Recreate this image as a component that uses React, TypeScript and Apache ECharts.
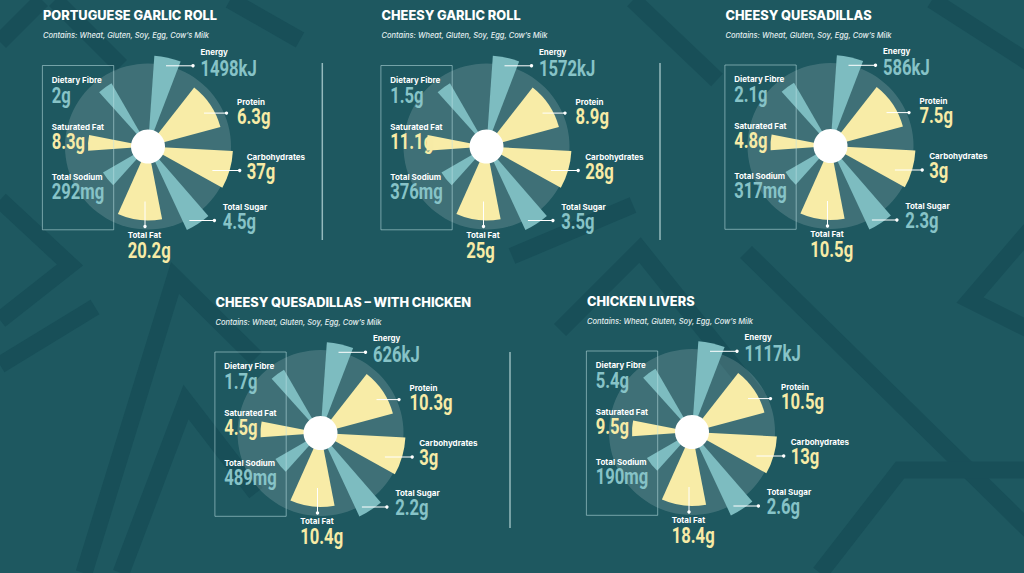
import React, { useEffect, useRef } from "react";
import * as echarts from "echarts";

// ---------- data ----------
const CATEGORIES = ["Energy", "Protein", "Carbohydrates", "Total Sugar", "Total Fat", "Total Sodium", "Saturated Fat", "Dietary Fibre"];
const UNITS = ["kJ", "g", "g", "g", "g", "mg", "g", "g"];
const DISHES = ["PORTUGUESE GARLIC ROLL", "CHEESY GARLIC ROLL", "CHEESY QUESADILLAS", "CHEESY QUESADILLAS – WITH CHICKEN", "CHICKEN LIVERS"];
const ALLERGENS = "Contains: Wheat, Gluten, Soy, Egg, Cow’s Milk";

const PORTUGUESE_GARLIC_ROLL = [1498, 6.3, 37, 4.5, 20.2, 292, 8.3, 2];
const CHEESY_GARLIC_ROLL = [1572, 8.9, 28, 3.5, 25, 376, 11.1, 1.5];
const CHEESY_QUESADILLAS = [586, 7.5, 3, 2.3, 10.5, 317, 4.8, 2.1];
const CHEESY_QUESADILLAS_CHICKEN = [626, 10.3, 3, 2.2, 10.4, 489, 4.5, 1.7];
const CHICKEN_LIVERS = [1117, 10.5, 13, 2.6, 18.4, 190, 9.5, 5.4];

// decorative petal template (identical for every dish): length on a 0-100 radius axis, angular span in degrees
const PETAL_LENGTH = [91, 75, 85, 92, 74, 52, 60, 73];
const PETAL_FROM = [4, 38, 93, 139, 169, 222, 266, 318];
const PETAL_TO = [21, 75, 119, 155, 204, 240, 281, 330];
const DISC_LENGTH = 83;
const HOLE_LENGTH = 17;

// ---------- layout & style ----------
const CENTERS = [
  [148, 146.5],
  [486.5, 146.5],
  [830.5, 146],
  [320.5, 433],
  [692, 432],
];
// per category: label x offset, name baseline offset, value baseline offset (relative to centre)
const LABEL_POS = [
  [52.4, -92, -70.7],
  [89, -42, -22.7],
  [98.7, 13.1, 32.3],
  [74.7, 63.1, 82.3],
  [-20.3, 91.1, 111.3],
  [-96.3, 33.1, 52.3],
  [-96.3, -16.9, 2.3],
  [-96.3, -63.9, -43.7],
];
const POINTERS: (number[] | null)[] = [
  [18, -80.7, 45, -80.7],
  [56, -33.4, 78.5, -33.4],
  [64.4, 24, 91.7, 24],
  [41.4, 74, 66.4, 74],
  [-3, 55, -3, 80],
  null,
  null,
  null,
];
const BOX = [-105.6, -81, 71.3, 164.3];
const SEPARATORS = [
  [322.3, 63, 240],
  [660, 63, 240],
  [510, 352, 528],
];
const STRIPES = [
  [[0, 42], [42, 0]],
  [[55, 0], [121, 66]],
  [[0, 365], [95, 307]],
  [[84, 573], [175, 278], [256, 358]],
  [[121, 573], [186, 402], [256, 493]],
  [[0, 200], [70, 265], [0, 320]],
  [[633, 0], [717, 80]],
  [[512, 256], [633, 205]],
  [[746, 252], [1073, 573]],
  [[932, 0], [1073, 91]],
  [[1030, 230], [970, 300], [1030, 330]],
  [[560, 330], [640, 250], [760, 400]],
  [[820, 573], [900, 470], [1030, 470]],
  [[230, 0], [300, 40]],
];

const TONE = [0, 1, 1, 0, 1, 0, 1, 0];
const PETAL_COLORS = ["#7dbcc0", "#f8eca7"];
const VALUE_COLORS = ["#87c3c7", "#f7eba6"];
const BG = "#1e5860";
const STRIPE = "#184f58";
const DISC_FILL = "rgba(255,255,255,0.15)";
const VALUE_FONT = "Roboto, sans-serif";
const TEXT_FONT = "Inter, Roboto, sans-serif";
const VALUE_SIZE = 22.5;
const VALUE_SQUEEZE = 0.74;

export default function App() {
  const ref = useRef<HTMLDivElement>(null);

  useEffect(() => {
    document.body.style.margin = "0";
    const chart = echarts.init(ref.current!, undefined, { renderer: "svg", width: 1024, height: 573 });
    const dishValues = [PORTUGUESE_GARLIC_ROLL, CHEESY_GARLIC_ROLL, CHEESY_QUESADILLAS, CHEESY_QUESADILLAS_CHICKEN, CHICKEN_LIVERS];

    const polar = CENTERS.map((c) => ({ center: [c[0], c[1]], radius: 100 }));
    const angleAxis = CENTERS.map((_, i) => ({ polarIndex: i, type: "value", min: 0, max: 360, startAngle: 90, clockwise: true, show: false }));
    const radiusAxis = CENTERS.map((_, i) => ({ polarIndex: i, type: "value", min: 0, max: 100, show: false }));

    const circleItem = (fill: string) => (params: any, api: any) => {
      const cs = params.coordSys;
      const p = api.coord([api.value(0), 0]);
      const r = Math.hypot(p[0] - cs.cx, p[1] - cs.cy);
      return { type: "circle", shape: { cx: cs.cx, cy: cs.cy, r }, style: { fill } };
    };

    const petalItem = (params: any, api: any) => {
      const cs = params.coordSys;
      const len = api.value(0);
      const p0 = api.coord([len, api.value(1)]);
      const p1 = api.coord([len, api.value(2)]);
      const r = Math.hypot(p0[0] - cs.cx, p0[1] - cs.cy);
      const s = Math.atan2(p0[1] - cs.cy, p0[0] - cs.cx);
      let e = Math.atan2(p1[1] - cs.cy, p1[0] - cs.cx);
      if (e < s) e += Math.PI * 2;
      return {
        type: "sector",
        shape: { cx: cs.cx, cy: cs.cy, r0: 0, r, startAngle: s, endAngle: e, clockwise: true },
        style: { fill: PETAL_COLORS[TONE[params.dataIndex]] },
      };
    };

    const series: any[] = [];
    CENTERS.forEach((_, i) => {
      series.push({
        type: "custom", coordinateSystem: "polar", polarIndex: i, z: 1, silent: true,
        data: [[DISC_LENGTH, 0]], renderItem: circleItem(DISC_FILL),
      });
      series.push({
        type: "custom", coordinateSystem: "polar", polarIndex: i, z: 2, silent: true,
        name: DISHES[i],
        data: PETAL_LENGTH.map((l, k) => ({ name: CATEGORIES[k], value: [l, PETAL_FROM[k], PETAL_TO[k], dishValues[i][k]] })),
        renderItem: petalItem,
      });
      series.push({
        type: "custom", coordinateSystem: "polar", polarIndex: i, z: 3, silent: true,
        data: [[HOLE_LENGTH, 0]], renderItem: circleItem("#ffffff"),
      });
    });

    const graphic: any[] = [];
    STRIPES.forEach((pts) => {
      graphic.push({
        type: "polyline", z: 0, silent: true,
        shape: { points: pts },
        style: { stroke: STRIPE, lineWidth: 17, fill: null, lineJoin: "miter" },
      });
    });
    SEPARATORS.forEach(([x, y0, y1]) => {
      graphic.push({
        type: "line", z: 50, silent: true,
        shape: { x1: x, y1: y0, x2: x, y2: y1 },
        style: { stroke: "rgba(200,228,230,0.7)", lineWidth: 1.5 },
      });
    });

    const text = (x: number, y: number, str: string, fill: string, size: number, weight: any, family: string, style = "normal", squeeze = 1) => ({
      type: "text", z: 100, silent: true, x, y, scaleX: squeeze,
      style: {
        text: str, fill, fontSize: size, fontWeight: weight, fontFamily: family, fontStyle: style,
        lineHeight: Math.round(size * 0.8),
        align: "left", verticalAlign: "middle", textAlign: "left", textVerticalAlign: "middle",
      },
    });

    CENTERS.forEach(([cx, cy], i) => {
      graphic.push(text(cx - 105, cy - 126 - 12.8 * 0.36, DISHES[i], "#ffffff", 12.8, 800, TEXT_FONT));
      graphic.push(text(cx - 105, cy - 108.3 - 7.5 * 0.36, ALLERGENS, "#e3eeef", 7.5, 500, TEXT_FONT, "italic"));
      graphic.push({
        type: "rect", z: 50, silent: true,
        shape: { x: cx + BOX[0], y: cy + BOX[1], width: BOX[2], height: BOX[3] },
        style: { fill: null, stroke: "rgba(190,225,228,0.55)", lineWidth: 1 },
      });
      CATEGORIES.forEach((cat, k) => {
        const [lx, nb, vb] = LABEL_POS[k];
        graphic.push(text(cx + lx, cy + nb - 8 * 0.36, cat, "#ffffff", 8, 700, TEXT_FONT));
        graphic.push(text(cx + lx, cy + vb - VALUE_SIZE * 0.34, `${dishValues[i][k]}${UNITS[k]}`, VALUE_COLORS[TONE[k]], VALUE_SIZE, 700, VALUE_FONT, "normal", VALUE_SQUEEZE));
        const p = POINTERS[k];
        if (p) {
          graphic.push({
            type: "line", z: 60, silent: true,
            shape: { x1: cx + p[0], y1: cy + p[1], x2: cx + p[2], y2: cy + p[3] },
            style: { stroke: "#ffffff", lineWidth: 1 },
          });
          graphic.push({
            type: "circle", z: 60, silent: true,
            shape: { cx: cx + p[2], cy: cy + p[3], r: 1.7 },
            style: { fill: "#ffffff" },
          });
        }
      });
    });

    chart.setOption({
      animation: false,
      backgroundColor: BG,
      polar,
      angleAxis,
      radiusAxis,
      series,
      graphic: { elements: graphic },
    });

    return () => chart.dispose();
  }, []);

  return <div ref={ref} style={{ position: "absolute", left: 0, top: 0, width: 1024, height: 573 }} />;
}
